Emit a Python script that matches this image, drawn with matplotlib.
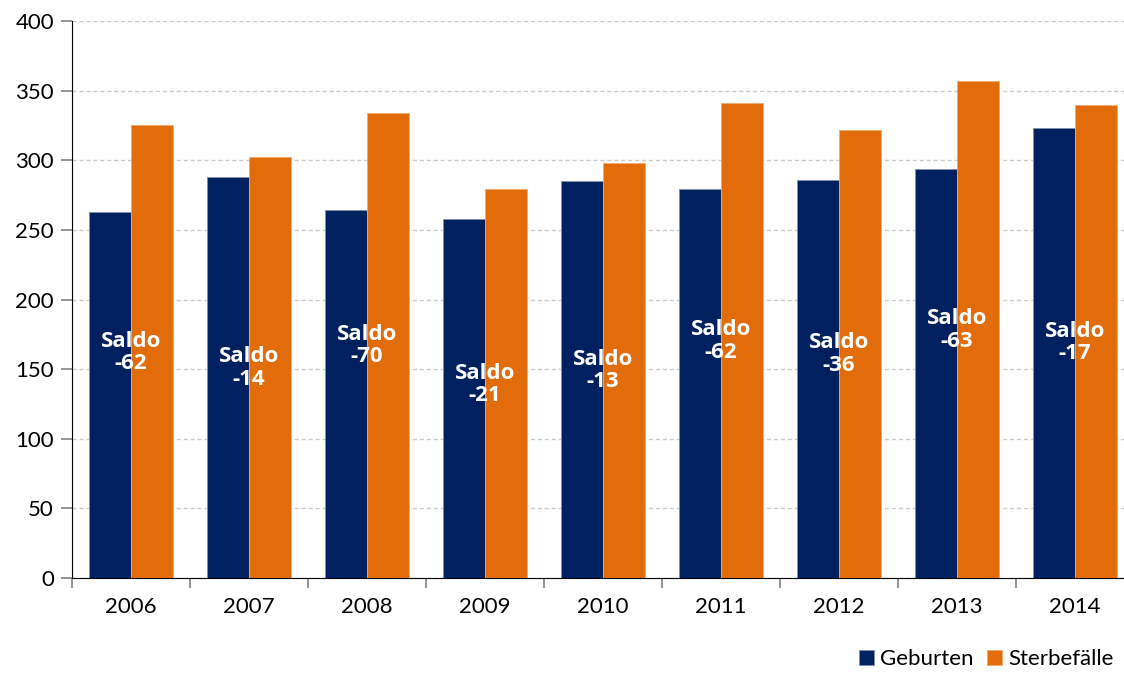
import matplotlib.pyplot as plt
import numpy as np

years = ['2006', '2007', '2008', '2009', '2010', '2011', '2012', '2013', '2014']
geburten = [263, 288, 264, 258, 285, 279, 286, 294, 323]
sterbefaelle = [325, 302, 334, 279, 298, 341, 322, 357, 340]
saldo = [-62, -14, -70, -21, -13, -62, -36, -63, -17]
label_y = [162, 151, 167, 139, 149, 170, 161, 178, 169]

navy = '#00205f'
orange = '#e36c0a'

plt.rcParams['font.family'] = ['Lato', 'DejaVu Sans']

fig = plt.figure(figsize=(11.24, 6.8), dpi=100)
ax = fig.add_axes([72 / 1124, 102 / 680, 1062 / 1124, 557 / 680])

x = np.arange(len(years))
w = 0.356
ax.bar(x - w / 2, geburten, width=w, color=navy, edgecolor='#8090b0', linewidth=0.6, label='Geburten', zorder=3)
ax.bar(x + w / 2, sterbefaelle, width=w, color=orange, edgecolor='#f0a870', linewidth=0.6, label='Sterbefälle', zorder=3)

for i in range(len(years)):
    ax.text(x[i], label_y[i], 'Saldo\n%d' % saldo[i], ha='center', va='center', color='white',
            fontsize=16, fontweight='bold', family=['Open Sans', 'DejaVu Sans'],
            linespacing=1.1, zorder=4)

ax.set_xlim(-0.5, len(years) - 0.5)
ax.set_ylim(0, 400)
ax.set_yticks(range(0, 401, 50))
ax.yaxis.grid(True, color='#cccccc', linestyle=(0, (3, 2)), linewidth=1, zorder=0)

ax.set_xticks(x)
ax.set_xticklabels(years)
ax.set_xticks(np.arange(-0.5, len(years)), minor=True)
ax.tick_params(axis='x', which='major', length=0, labelsize=16, pad=14)
ax.tick_params(axis='x', which='minor', length=7, color='#808080', width=1.2)
ax.tick_params(axis='y', length=8, color='#808080', width=1.2, labelsize=16, pad=5)

for s in ['top', 'right']:
    ax.spines[s].set_visible(False)
ax.spines['left'].set_color('black')
ax.spines['bottom'].set_color('black')

fig.legend(loc='lower left', bbox_to_anchor=(848 / 1124, 0.0), ncol=2, frameon=False, borderaxespad=0.1,
           handlelength=0.65, handleheight=0.65, handletextpad=0.3, columnspacing=0.6, fontsize=16)

plt.savefig('out.png', dpi=100)
